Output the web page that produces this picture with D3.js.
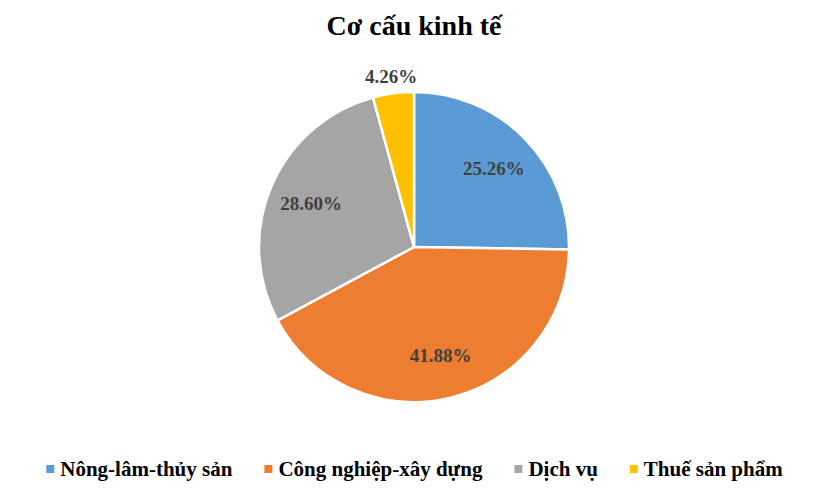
<!DOCTYPE html>
<html><head><meta charset="utf-8">
<script src="https://cdn.jsdelivr.net/npm/d3@7"></script>
<style>body{margin:0;background:#fff}svg{display:block}</style>
</head><body>
<svg id="chart" width="824" height="491"></svg>
<script>
const title = "Cơ cấu kinh tế";
const categories = ["Nông-lâm-thủy sản", "Công nghiệp-xây dựng", "Dịch vụ", "Thuế sản phẩm"];
const values = [25.26, 41.88, 28.60, 4.26];
const colors = ["#5B9BD5", "#ED7D31", "#A5A5A5", "#FFC000"];

const W = 824, H = 491;
const cx = 414, cy = 247, R = 155;
const font = "Liberation Serif";
const svg = d3.select("#chart");

svg.append("text").attr("x", 414).attr("y", 35).attr("text-anchor", "middle")
  .style("font-family", font).style("font-weight", "bold").style("font-size", "28px")
  .attr("fill", "#000").text(title);

const data = categories.map((c, i) => ({cat: c, value: values[i], color: colors[i]}));
const pie = d3.pie().value(d => d.value).sort(null);
const arcs = pie(data);
const arc = d3.arc().innerRadius(0).outerRadius(R);
const g = svg.append("g").attr("transform", `translate(${cx},${cy})`);
g.selectAll("path").data(arcs).join("path")
  .attr("d", arc).attr("fill", d => d.data.color)
  .attr("stroke", "#fff").attr("stroke-width", 2.5).attr("stroke-linejoin", "round");

const total = d3.sum(values);
g.selectAll("text.lbl").data(arcs).join("text").attr("class", "lbl")
  .each(function(d) {
    const frac = d.data.value / total;
    const outside = frac < 0.05;
    const r = outside ? R + 17 : 112;
    const a = (d.startAngle + d.endAngle) / 2;
    d3.select(this).attr("x", r * Math.sin(a)).attr("y", -r * Math.cos(a));
  })
  .attr("text-anchor", "middle").attr("dy", "0.35em")
  .style("font-family", font).style("font-weight", "bold").style("font-size", "19px")
  .attr("fill", "#404040").text(d => d.data.value.toFixed(2) + "%");

// legend
const gap = 32;
const lg = svg.append("g");
const items = lg.selectAll("g").data(data).join("g");
items.append("rect").attr("width", 8).attr("height", 8).attr("y", -11).attr("fill", d => d.color);
items.append("text").attr("x", 14).attr("y", 0)
  .style("font-family", font).style("font-weight", "bold").style("font-size", "21px")
  .attr("fill", "#000").text(d => d.cat);
let x = 0;
items.each(function() {
  const tw = d3.select(this).select("text").node().getComputedTextLength();
  d3.select(this).attr("transform", `translate(${x},0)`);
  x += 14 + tw + gap;
});
const totalW = x - gap;
lg.attr("transform", `translate(${414.5 - totalW / 2},476)`);
</script>
</body></html>
